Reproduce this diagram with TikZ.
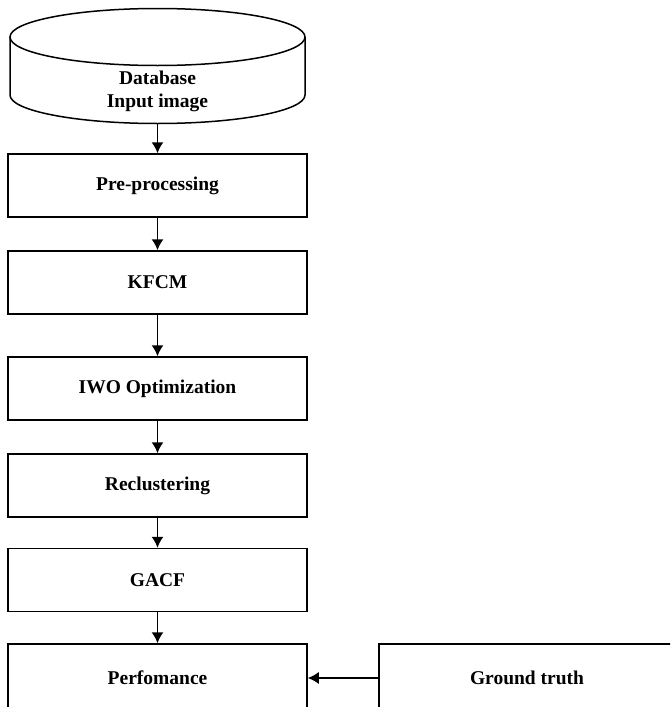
\documentclass[tikz,border=0pt]{standalone}
\usepackage{fontspec}
\setmainfont{Liberation Serif}
\usetikzlibrary{arrows.meta}
\begin{document}
\begin{tikzpicture}[x=1pt,y=1pt,
  proc/.style={draw=black, line width=1.5pt, minimum width=299pt, minimum height=63pt,
    inner sep=0pt, font=\fontsize{19.5}{23}\selectfont\bfseries},
  lbl/.style={font=\fontsize{19.5}{23}\selectfont\bfseries, align=center, inner sep=0pt},
  flow/.style={line width=1.5pt, -{Latex[length=11pt,width=12pt]}}]
\clip (0,0) rectangle (670,-707);
\useasboundingbox (0,0) rectangle (670,-707);
% database cylinder
\draw[line width=1.5pt] (157.5,-37) ellipse [x radius=147.5, y radius=28.5];
\draw[line width=1.5pt] (10,-37) -- (10,-95) arc[start angle=180, end angle=360, x radius=147.5, y radius=28.5] -- (305,-37);
\node[lbl] (db) at (157.5,-91) {Database\\Input image};
\coordinate (dbbot) at (157.5,-123.5);
% process boxes
\node[proc] (pre)  at (157.5,-185.5) {Pre-processing};
\node[proc] (kfcm) at (157.5,-282.5) {KFCM};
\node[proc] (iwo)  at (157.5,-388.5) {IWO Optimization};
\node[proc] (recl) at (157.5,-485.5) {Reclustering};
\node[proc] (gacf) at (157.5,-580)   {GACF};
\node[proc, minimum height=68pt] (perf) at (157.5,-678) {Perfomance};
\node[proc, minimum width=296pt, minimum height=68pt] (gt) at (527,-678) {Ground truth};
% connectors
\draw[flow] (dbbot) -- (pre.north);
\draw[flow] (pre) -- (kfcm);
\draw[flow] (kfcm) -- (iwo);
\draw[flow] (iwo) -- (recl);
\draw[flow] (recl) -- (gacf);
\draw[flow] (gacf) -- (perf);
\draw[flow] (gt) -- (perf);
\end{tikzpicture}
\end{document}
